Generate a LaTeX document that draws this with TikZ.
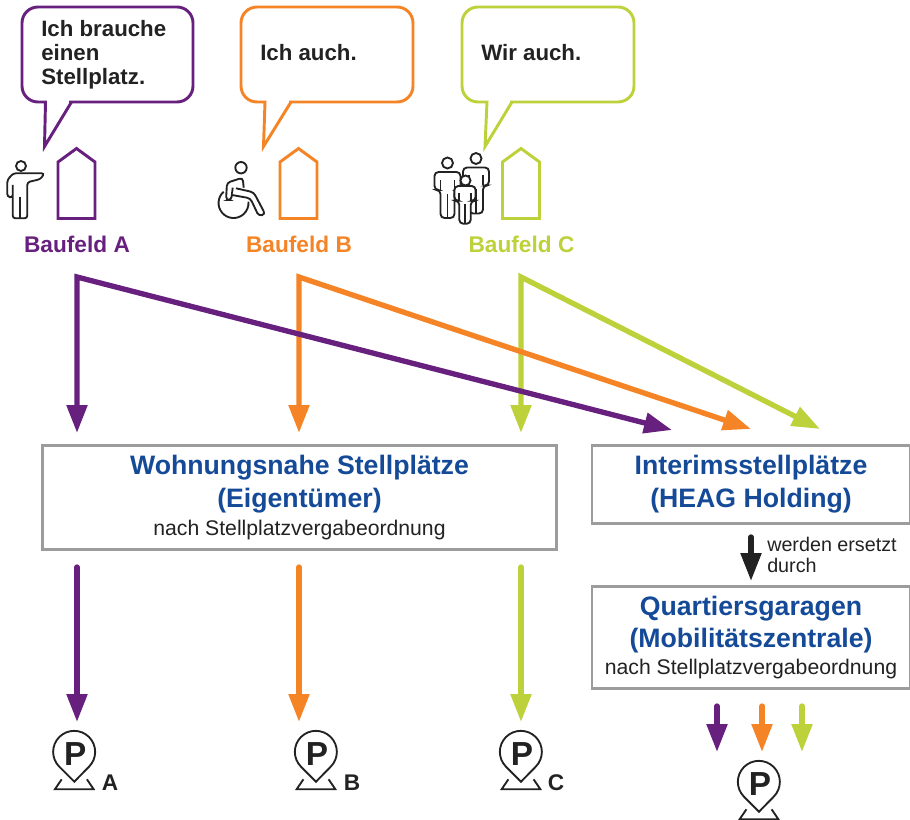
\documentclass[tikz,border=0pt]{standalone}
\usepackage{fontspec}
\setmainfont{Liberation Sans}
\usetikzlibrary{arrows.meta}

\definecolor{baufelda}{HTML}{68207F}
\definecolor{baufeldb}{HTML}{F58426}
\definecolor{baufeldc}{HTML}{BDD13A}
\definecolor{titelblau}{HTML}{144A97}
\definecolor{rahmen}{HTML}{9C9C9C}
\definecolor{schwarz}{HTML}{222222}

\newcommand{\titelschrift}{\fontsize{20}{24.7}\selectfont\bfseries\color{titelblau}}
\newcommand{\kleinschrift}{\fontsize{15.9}{18}\selectfont}

\tikzset{
    pfeil/.style={line width=4pt,{Triangle[length=21pt,width=15pt]}-{Triangle[length=21pt,width=15pt]}},
    endpfeil/.style={line width=4pt,line cap=round,-{Triangle[length=21pt,width=15pt]}},
    blase/.style={line width=2.2pt,fill=white,rounded corners=12pt},
    blasentext/.style={font=\fontsize{16.7}{18}\selectfont\bfseries,text=schwarz,anchor=west,align=left,inner sep=0pt},
    feldtext/.style={font=\fontsize{17}{20}\selectfont\bfseries,inner sep=0pt},
    kasten/.style={draw=rahmen,line width=2.2pt,fill=white,align=center,inner sep=0pt,text=schwarz},
    symbol/.style={line width=1.4pt,draw=schwarz},
    haus/.pic={\draw[line width=2.2pt] (-18.5,70) -- (-18.5,13.5) -- (0,0) -- (18.5,13.5) -- (18.5,70) -- cycle;},
    figur/.pic={
        \draw[symbol,fill=white,rounded corners=3pt] (-7,46) -- (-7,18) -- (-13,18) -- (-13,0) -- (13,0) -- (13,18) -- (7,18) -- (7,46) -- cycle;
        \draw[symbol] (7,18) -- (7,8) (-7,18) -- (-7,8) (0,22) -- (0,46);
    },
    parkpin/.pic={
        \draw[symbol] (-15,15) arc (135:405:21) -- (0,30) -- cycle;
        \draw[symbol] (-12.6,27.6) -- (-19.4,37.6) -- (19.4,37.6) -- (12.6,27.6);
        \node[font=\fontsize{25}{25}\selectfont\bfseries,text=schwarz,inner sep=0pt] at (1,2.5) {P};
    },
}

\begin{document}
\begin{tikzpicture}[x=0.75pt,y=-0.75pt]
    \useasboundingbox (0,0) rectangle (910,820);

    % Sprechblasen
    \draw [blase,draw=baufelda] (22,54) -- (22,7) -- (193,7) -- (193,102) -- (85,102) [sharp corners] -- (71.5,102) -- (44.5,146.5) -- (45.5,102) -- (36,102) [rounded corners=12pt] -- (22,102) -- cycle;
    \draw [blase,draw=baufeldb] (241,54) -- (241,7) -- (413,7) -- (413,102) -- (305,102) [sharp corners] -- (291,102) -- (263.5,146.5) -- (265,102) -- (255,102) [rounded corners=12pt] -- (241,102) -- cycle;
    \draw [blase,draw=baufeldc] (462,54) -- (462,7) -- (634,7) -- (634,102) -- (526,102) [sharp corners] -- (512,102) -- (485,146.5) -- (487,102) -- (476,102) [rounded corners=12pt] -- (462,102) -- cycle;
    \node [blasentext] (textA) at (41,55) {Ich brauche\\einen\\Stellplatz.};
    \node [blasentext] (textB) at (260,53) {Ich auch.};
    \node [blasentext] (textC) at (481,53) {Wir auch.};

    % Personen
    \draw [symbol] (21,166) circle (5);
    \draw [symbol,rounded corners=2pt] (44.3,173.3) -- (13.3,173.3) -- (7.3,180) -- (7.3,196.7) -- (12.7,197.7) -- (12.7,183.3) -- (12.7,218.3) -- (27.3,218.3) -- (27.3,182.3) -- (40.7,179) -- cycle;
    \draw [symbol] (20,196.7) -- (20,218.3);

    \draw [symbol] (241,167.7) circle (5.7);
    \draw [symbol] (223.7,191.7) arc (229:-5:15);
    \draw [symbol,rounded corners=2.5pt] (243.7,187.7) -- (242.7,177.7) -- (227,182.7) -- (226,200) -- (231.3,200) -- (232.7,187.7);
    \draw [symbol,fill=white,rounded corners=2.5pt] (236,188.3) -- (253.7,192.3) -- (265.3,214.3) -- (258.7,216) -- (250.3,198.3) -- (232,195);

    \pic at (476,167.5) {figur};
    \draw [symbol,fill=white] (476,158.5) circle (5.5);
    \pic at (447.5,172) {figur};
    \draw [symbol,fill=white] (447.5,163) circle (5.5);
    \pic [scale=0.82] at (465,186) {figur};
    \draw [symbol,fill=white] (465.5,180.5) circle (5);

    % Baufelder
    \pic [color=baufelda] at (76.5,148.5) {haus};
    \pic [color=baufeldb] at (298.5,148.5) {haus};
    \pic [color=baufeldc] at (521,148.5) {haus};
    \node [feldtext,text=baufelda] (feldA) at (77,244) {Baufeld A};
    \node [feldtext,text=baufeldb] (feldB) at (299,244) {Baufeld B};
    \node [feldtext,text=baufeldc] (feldC) at (521.5,244) {Baufeld C};

    % Kaesten
    \node [kasten,minimum width=386pt,minimum height=78.5pt] (wohnung) at (299.5,497.5) {\titelschrift Wohnungsnahe Stellplätze\\[5.25pt]\titelschrift (Eigentümer)\\[4pt]\kleinschrift nach Stellplatzvergabeordnung};
    \node [kasten,minimum width=238.5pt,minimum height=59pt] (interim) at (751,484.5) {\titelschrift Interimsstellplätze\\[5.25pt]\titelschrift (HEAG Holding)};
    \node [kasten,minimum width=238.5pt,minimum height=77pt] (quartier) at (751,637.5) {\titelschrift Quartiersgaragen\\[4.5pt]\titelschrift (Mobilitätszentrale)\\[3.25pt]\kleinschrift nach Stellplatzvergabeordnung};
    \node [font=\fontsize{14.8}{15.8}\selectfont,text=schwarz,anchor=west,align=left,inner sep=0pt] (ersetzt) at (767,555) {werden ersetzt\\durch};

    % Parken
    \pic at (74.3,751.7) {parkpin};
    \pic at (316,751.7) {parkpin};
    \pic at (521,751.7) {parkpin};
    \pic at (759,781.7) {parkpin};
    \node [feldtext,text=schwarz] (parkA) at (110,783) {A};
    \node [feldtext,text=schwarz] (parkB) at (352,783) {B};
    \node [feldtext,text=schwarz] (parkC) at (556,783) {C};

    % Pfeile
    \coordinate (startA) at (77,277);
    \coordinate (startB) at (299,277);
    \coordinate (startC) at (521,277);
    \coordinate (obenA) at (77,433);
    \coordinate (obenB) at (299,433);
    \coordinate (obenC) at (521,433);
    \coordinate (interimA) at (672,430);
    \coordinate (interimB) at (751,429);
    \coordinate (interimC) at (820,429);
    \coordinate (untenA) at (77,567);
    \coordinate (untenB) at (299,567);
    \coordinate (untenC) at (521,567);
    \coordinate (endeA) at (77,722);
    \coordinate (endeB) at (299,722);
    \coordinate (endeC) at (521,722);
    \coordinate (ersetztA) at (751,537);
    \coordinate (ersetztB) at (751,581);
    \coordinate (garageA) at (717,706);
    \coordinate (garageB) at (762,706);
    \coordinate (garageC) at (802,706);
    \coordinate (parkenA) at (717,752);
    \coordinate (parkenB) at (762,752);
    \coordinate (parkenC) at (802,752);

    \draw [pfeil,color=baufeldc] (obenC) -- (startC) -- (interimC);
    \draw [pfeil,color=baufeldb] (obenB) -- (startB) -- (interimB);
    \draw [pfeil,color=baufelda] (obenA) -- (startA) -- (interimA);

    \draw [endpfeil,color=baufelda] (untenA) -- (endeA);
    \draw [endpfeil,color=baufeldb] (untenB) -- (endeB);
    \draw [endpfeil,color=baufeldc] (untenC) -- (endeC);
    \draw [endpfeil,color=schwarz] (ersetztA) -- (ersetztB);
    \draw [endpfeil,color=baufelda] (garageA) -- (parkenA);
    \draw [endpfeil,color=baufeldb] (garageB) -- (parkenB);
    \draw [endpfeil,color=baufeldc] (garageC) -- (parkenC);
\end{tikzpicture}
\end{document}
